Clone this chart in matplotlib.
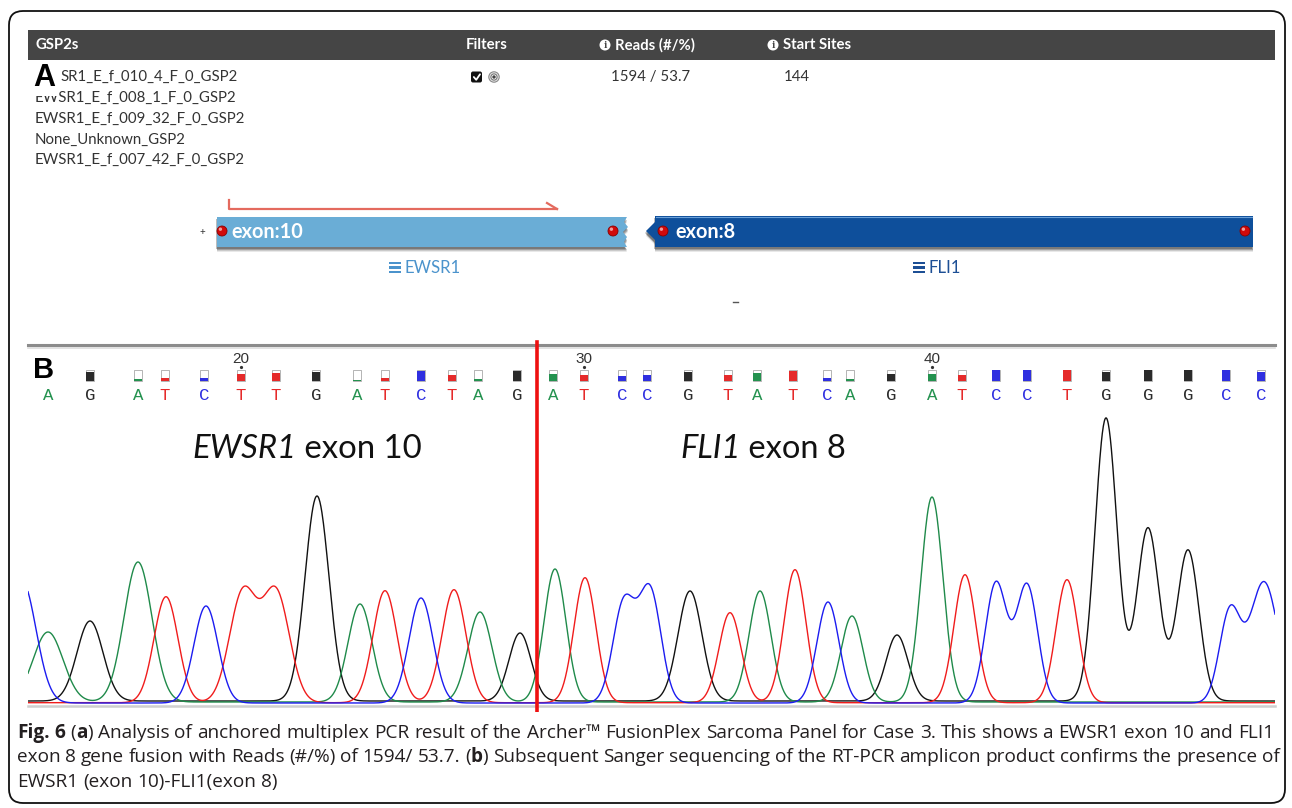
import numpy as np
import matplotlib
matplotlib.use("Agg")
import matplotlib.pyplot as plt
from matplotlib.patches import Rectangle, FancyBboxPatch, Polygon, Circle
from matplotlib import font_manager as fm

# ---------------- DATA ----------------
header_labels = ["GSP2s", "Filters", "Reads (#/%)", "Start Sites"]
gsp2_names = ["EWSR1_E_f_010_4_F_0_GSP2", "EWSR1_E_f_008_1_F_0_GSP2",
              "EWSR1_E_f_009_32_F_0_GSP2", "None_Unknown_GSP2",
              "EWSR1_E_f_007_42_F_0_GSP2"]
reads_count = 1594
reads_pct = 53.7
start_sites = 144
exon_labels = ["exon:10", "exon:8"]
gene_labels = ["EWSR1", "FLI1"]
region_labels = [("EWSR1", " exon 10"), ("FLI1", " exon 8")]

first_base_number = 15
base_calls = list("AGATCTTGATCTAGATCCGTATCAGATCCTGGGCC")
base_pos = [48, 90, 138, 165, 204, 241, 276, 316, 357, 385, 421, 452, 478, 517,
            553, 584, 622, 647, 688, 728, 757, 793, 827, 850, 891, 932, 962, 996,
            1027, 1067, 1106, 1148, 1188, 1226, 1261]
base_quality = [0.5, 0.85, 0.15, 0.3, 0.3, 0.6, 0.7, 0.8, 0.1, 0.3, 0.9, 0.5, 0.15,
                0.9, 0.6, 0.5, 0.45, 0.5, 0.8, 0.5, 0.7, 0.9, 0.3, 0.2, 0.65, 0.6,
                0.5, 1.0, 1.0, 1.0, 0.8, 1.0, 1.0, 1.0, 0.8]
fusion_pos = 537

peaks_A = [48, 138, 360, 480, 555, 760, 852, 932]
heights_A = [70, 140, 98, 90, 133, 111, 86, 205]
widths_A = [15, 14, 12, 12, 11, 11, 11, 11]

peaks_C = [22, 206, 421, 624, 650, 828, 996, 1027, 1230, 1264]
heights_C = [122, 97, 105, 100, 112, 101, 120, 118, 91, 121]
widths_C = [14, 12, 12, 11, 11, 11, 10.7, 10.7, 10.5, 14]

peaks_G = [90, 317, 520, 690, 897, 1106, 1148, 1188]
heights_G = [80, 205, 68, 110, 66, 283, 173, 151]
widths_G = [13, 12, 11, 12, 11, 11, 11, 11]

peaks_T = [166, 243, 276, 385, 454, 585, 730, 795, 965, 1067]
heights_T = [106, 110, 110, 112, 113, 125, 90, 133, 128, 123]
widths_T = [12, 13.5, 13.5, 12, 12, 11, 11, 11, 11, 11]

caption_lines = [
    [("Fig. 6", True), (" (", False), ("a", True),
     (") Analysis of anchored multiplex PCR result of the Archer\u2122 FusionPlex Sarcoma Panel for Case 3. This shows a EWSR1 exon 10 and FLI1", False)],
    [("exon 8 gene fusion with Reads (#/%) of 1594/ 53.7. (", False), ("b", True),
     (") Subsequent Sanger sequencing of the RT-PCR amplicon product confirms the presence of", False)],
    [("EWSR1 (exon 10)-FLI1(exon 8)", False)],
]

# ---------------- STYLE ----------------
W, H = 1292, 808
plt.rcParams['font.family'] = ['Lato', 'DejaVu Sans']
base_colors = {"A": "#24924f", "C": "#2f2fe0", "G": "#2a2a2a", "T": "#e52a2a"}
trace_colors = {"A": "#1f8a4a", "C": "#1c1cf0", "G": "#111111", "T": "#f01c1c"}


def has_font(name):
    try:
        fm.findfont(fm.FontProperties(family=name), fallback_to_default=False)
        return True
    except Exception:
        return False


ui_font = [f for f in ["Lato", "Open Sans", "DejaVu Sans"] if has_font(f)][:1] + ["DejaVu Sans"]
cap_font = [f for f in ["Open Sans", "Noto Sans", "DejaVu Sans"] if has_font(f)][:1] + ["DejaVu Sans"]
mono_font = [f for f in ["Liberation Mono", "DejaVu Sans Mono"] if has_font(f)][:1] + ["DejaVu Sans"]
arial = [f for f in ["Liberation Sans", "DejaVu Sans"] if has_font(f)][:1] + ["DejaVu Sans"]

fig = plt.figure(figsize=(W / 100, H / 100), dpi=100)
ax = fig.add_axes([0, 0, 1, 1])
ax.set_xlim(0, W)
ax.set_ylim(H, 0)
ax.axis('off')
renderer = fig.canvas.get_renderer()


def text_w(s, **kw):
    t = ax.text(0, 0, s, **kw)
    w = t.get_window_extent(renderer=renderer).width
    t.remove()
    return w


def fit_size(s, target, **kw):
    w = text_w(s, fontsize=10, **kw)
    return 10.0 * target / w


# outer rounded border
ax.add_patch(FancyBboxPatch((9, 11), 1276, 792, boxstyle="round,pad=0,rounding_size=14",
                            fc='none', ec='#111111', lw=1.3, zorder=1))

# ---------------- PANEL A ----------------
ax.add_patch(Rectangle((28, 30), 1247, 30, fc='#454545', ec='none', zorder=2))
hkw = dict(family=ui_font, fontweight='bold', color='white', va='center', ha='left', zorder=3)
hs = fit_size(header_labels[3], 68, fontweight='bold', family=ui_font)
ax.text(35, 45, header_labels[0], fontsize=hs, **hkw)
ax.text(466, 45, header_labels[1], fontsize=hs, **hkw)
for cx, lab in [(605, header_labels[2]), (773, header_labels[3])]:
    ax.add_patch(Circle((cx, 45), 5.5, fc='white', ec='none', zorder=3))
    ax.text(cx, 45.5, "i", fontsize=6.5, family='DejaVu Serif', fontweight='bold',
            color='#454545', ha='center', va='center', zorder=4)
    ax.text(cx + 10, 45, lab, fontsize=hs, **hkw)

rs = fit_size(gsp2_names[2], 209, family=ui_font)
rkw = dict(family=ui_font, fontsize=rs, color='#333333', va='center', ha='left', zorder=3)
row_y = [77, 98, 119, 140, 160]
# first row: the panel letter "A" hides its first two characters
hidden = gsp2_names[0][:2]
ax.text(35 + text_w(hidden, **rkw) + 1, row_y[0], gsp2_names[0][2:], **rkw)
for y, name in zip(row_y[1:], gsp2_names[1:]):
    ax.text(35, y, name, **rkw)
ax.text(611, 77, f"{reads_count} / {reads_pct}", **rkw)
ax.text(784, 77, f"{start_sites}", **rkw)

# "A" label with white patch covering the start of the second row
ax.add_patch(Rectangle((30, 62), 27.5, 34, fc='white', ec='none', zorder=5))
ax.text(33, 78, "A", family=arial, fontweight='bold', fontsize=22, color='black',
        va='center', ha='left', zorder=6)

# filter icons
ax.add_patch(FancyBboxPatch((471, 71.5), 11, 11, boxstyle="round,pad=0,rounding_size=2",
                            fc='#111111', ec='none', zorder=3))
ax.plot([473.8, 476.2, 480], [77, 79.8, 74.3], color='white', lw=1.3, zorder=4,
        solid_capstyle='round')
ax.add_patch(Circle((494, 77), 5.2, fc='#e6e6e6', ec='#8a8a8a', lw=0.8, zorder=3))
ax.add_patch(Circle((494, 77), 3.1, fc='white', ec='#777777', lw=0.8, zorder=4))
ax.add_patch(Circle((494, 77), 1.7, fc='#444444', ec='none', zorder=5))

# red bracket arrow
ax.plot([229, 229, 557], [200, 209, 209], color='#e46a5e', lw=1.6, zorder=3)
ax.plot([547, 557], [203, 209], color='#e46a5e', lw=1.6, zorder=3)


def shadow(pts):
    for dx, dy, a in [(0, 5, 0.10), (0, 4, 0.15), (0, 3, 0.25), (-1, 2, 0.3)]:
        ax.add_patch(Polygon([(x + dx, y + dy) for x, y in pts], closed=True,
                             fc='#222222', ec='none', alpha=a, zorder=2))


def ball(cx, cy):
    ax.add_patch(Circle((cx, cy), 5, fc='#d10a0a', ec='#8a0000', lw=0.6, zorder=6))
    ax.add_patch(Circle((cx - 1.6, cy - 1.8), 1.7, fc='white', ec='none', alpha=0.6, zorder=7))


ews = [(217, 217), (627, 217), (624, 222), (628, 227), (623, 232), (627, 237),
       (624, 242), (627, 247), (217, 247)]
shadow(ews)
ax.add_patch(Polygon(ews, closed=True, fc='#6aadd6', ec='none', zorder=3))
fli = [(655, 216), (1253, 216), (1253, 247), (655, 247), (655, 240), (646, 231), (655, 222)]
shadow(fli)
ax.add_patch(Polygon(fli, closed=True, fc='#0e4f9b', ec='none', zorder=3))
ax.plot([656, 1252], [216.6, 216.6], color='#6aa0d8', lw=0.8, zorder=4)
ball(222, 231)
ball(613, 231)
ball(663, 231)
ball(1245, 231)
ax.text(202, 233, "+", fontsize=7, color='#333333', ha='center', va='center', zorder=4)
es = fit_size(exon_labels[0], 72, fontweight='bold', family=ui_font)
ax.text(231, 232, exon_labels[0], fontsize=es, fontweight='bold', family=ui_font,
        color='white', va='center', ha='left', zorder=5)
ax.text(675, 232, exon_labels[1], fontsize=es, fontweight='bold', family=ui_font,
        color='white', va='center', ha='left', zorder=5)

# gene labels with list icons
gs = fit_size(gene_labels[0], 56, family=ui_font)
for ix, tx, lab, col in [(389, 405, gene_labels[0], '#4b93cc'), (913, 928, gene_labels[1], '#1d4f95')]:
    for yy in [263, 267.5, 272]:
        ax.add_patch(Rectangle((ix, yy - 1.4), 12, 2.8, fc=col, ec='none', zorder=3))
    ax.text(tx, 268, lab, fontsize=gs, family=ui_font, color=col,
            va='center', ha='left', zorder=3)
ax.plot([733, 738], [302, 302], color='#555555', lw=1.0, zorder=3)

# ---------------- PANEL B ----------------
ax.plot([28, 1275], [344.5, 344.5], color='#8c8c8c', lw=2.2, zorder=2)
ax.plot([28, 1275], [347.5, 347.5], color='#dddddd', lw=1.2, zorder=2)
ax.plot([28, 1275], [706, 706], color='#cfcfcf', lw=1.8, zorder=2)

# chromatogram axes: 1 data unit == 1 pixel, baseline at pixel 703
top_px, bot_px = 340, 712
axc = fig.add_axes([28 / W, (H - bot_px) / H, (1275 - 28) / W, (bot_px - top_px) / H])
axc.set_xlim(28, 1275)
axc.set_ylim(-(bot_px - 703), 703 - top_px)
axc.axis('off')
axc.patch.set_alpha(0)

xs = np.linspace(28, 1275, 2500)


def trace(pos, hts, wds):
    y = np.zeros_like(xs)
    for p, h, w in zip(pos, hts, wds):
        y += h * np.exp(-0.5 * ((xs - p) / w) ** 2)
    return y


for key, pos, hts, wds, off in [("G", peaks_G, heights_G, widths_G, 2.0),
                                ("A", peaks_A, heights_A, widths_A, 1.0),
                                ("T", peaks_T, heights_T, widths_T, 0.3),
                                ("C", peaks_C, heights_C, widths_C, 0.0)]:
    axc.plot(xs, trace(pos, hts, wds) + off, color=trace_colors[key], lw=1.0,
             solid_joinstyle='round')

# base call letters and quality boxes
for i, (b, x, q) in enumerate(zip(base_calls, base_pos, base_quality)):
    axc.add_patch(Rectangle((x - 4, 703 - 381), 8, 11, fc='white', ec='#a8a8a8', lw=0.6))
    axc.add_patch(Rectangle((x - 4, 703 - 381), 8, 11 * q, fc=base_colors[b], ec='none'))
    axc.text(x, 703 - 396, b, family=mono_font, fontsize=12.5, color=base_colors[b],
             ha='center', va='center')
    num = first_base_number + i
    if num % 10 == 0:
        axc.text(x, 703 - 359, str(num), family=arial, fontsize=11, color='#333333',
                 ha='center', va='center')
        axc.plot([x], [703 - 367.5], marker='o', ms=1.3, color='#333333')

axc.axvline(fusion_pos, ymin=0.0, ymax=(712 - 342) / (bot_px - top_px), color='#ee1111', lw=2.6)

# "B" label
fig.text(33 / W, 1 - 370 / H, "B", family=arial, fontweight='bold', fontsize=21,
         color='black', va='center', ha='left', zorder=10,
         bbox=dict(fc='white', ec='none', pad=0.5))

# region labels
for (ital, rest), x0, tw in [(region_labels[0], 192, 230), (region_labels[1], 680, 166)]:
    w_it = text_w(ital, fontsize=10, family=ui_font, style='italic')
    w_re = text_w(rest, fontsize=10, family=ui_font)
    sz = 10 * tw / (w_it + w_re)
    ax.text(x0, 458, ital, fontsize=sz, family=ui_font, style='italic', color='#111111',
            va='baseline', ha='left', zorder=5)
    ax.text(x0 + w_it * sz / 10, 458, rest, fontsize=sz, family=ui_font, color='#111111',
            va='baseline', ha='left', zorder=5)


# ---------------- CAPTION ----------------
def split_words(runs):
    words = [[]]
    for txt, bold in runs:
        parts = txt.split(' ')
        for i, p in enumerate(parts):
            if i > 0:
                words.append([])
            if p:
                words[-1].append((p, bold))
    return [w for w in words if w]


def line_metrics(runs, size):
    words = split_words(runs)
    widths = [[text_w(p, fontsize=size, family=cap_font,
                      fontweight='bold' if b else 'normal') for p, b in w] for w in words]
    sp = text_w("a a", fontsize=size, family=cap_font) - text_w("aa", fontsize=size, family=cap_font)
    return words, widths, sp


def draw_line(runs, x0, y, size, target=None):
    words, widths, sp = line_metrics(runs, size)
    wsum = sum(sum(ws) for ws in widths)
    gap = sp if target is None else (target - wsum) / max(1, len(words) - 1)
    x = x0
    for w, ws in zip(words, widths):
        for (p, b), pw in zip(w, ws):
            ax.text(x, y, p, fontsize=size, family=cap_font, fontweight='bold' if b else 'normal',
                    color='#231f20', va='baseline', ha='left', zorder=5)
            x += pw
        x += gap


words, widths, sp = line_metrics(caption_lines[0], 10)
nat = sum(sum(ws) for ws in widths) + sp * (len(words) - 1)
cs = 10 * 1257 / nat
draw_line(caption_lines[0], 17, 738, cs, target=1257)
draw_line(caption_lines[1], 17, 762, cs, target=1263)
draw_line(caption_lines[2], 17, 787, cs)

fig.savefig("out.png", dpi=100)
